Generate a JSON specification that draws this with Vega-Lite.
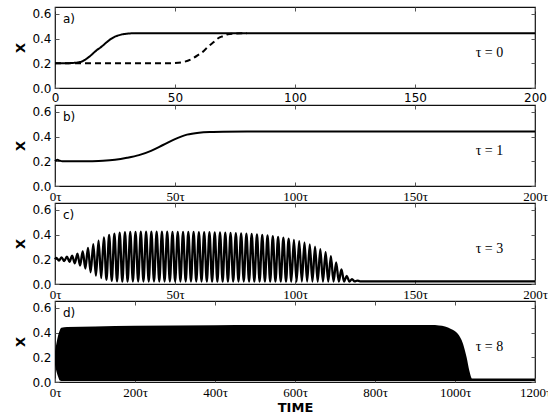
{
  "$schema": "https://vega.github.io/schema/vega-lite/v6.json",
  "padding": {"left": 14, "top": 5, "right": 0, "bottom": 4},
  "background": "white",
  "spacing": 17,
  "bounds": "flush",
  "config": {
    "view": {"stroke": "#111", "strokeWidth": 1.2},
    "axis": {"domain": false, "grid": false, "ticks": true, "tickSize": -4, "tickColor": "#555", "tickWidth": 1,
      "labelFont": "DejaVu Sans", "labelFontSize": 12, "labelColor": "#000", "labelPadding": 8, "labelFlush": false, "labelOverlap": false,
      "titleFont": "DejaVu Sans", "titleFontSize": 13, "titleFontWeight": "bold", "titleColor": "#000", "titlePadding": 4}
  },
  "vconcat": [
    {
      "width": 480, "height": 81,
      "layer": [
        {
          "data": {"values": [
            {"t": 0, "x": 0.2, "run": "solid"}, {"t": 5, "x": 0.201, "run": "solid"}, {"t": 8, "x": 0.204, "run": "solid"},
            {"t": 11, "x": 0.213, "run": "solid"}, {"t": 13, "x": 0.235, "run": "solid"}, {"t": 15, "x": 0.265, "run": "solid"},
            {"t": 17, "x": 0.3, "run": "solid"}, {"t": 19.4, "x": 0.335, "run": "solid"}, {"t": 21.5, "x": 0.37, "run": "solid"},
            {"t": 23.5, "x": 0.4, "run": "solid"}, {"t": 25.5, "x": 0.42, "run": "solid"}, {"t": 27.7, "x": 0.433, "run": "solid"},
            {"t": 30, "x": 0.44, "run": "solid"}, {"t": 33, "x": 0.443, "run": "solid"}, {"t": 40, "x": 0.443, "run": "solid"},
            {"t": 200, "x": 0.443, "run": "solid"},
            {"t": 0, "x": 0.2, "run": "dashed"}, {"t": 45, "x": 0.2, "run": "dashed"}, {"t": 50, "x": 0.203, "run": "dashed"},
            {"t": 54, "x": 0.213, "run": "dashed"}, {"t": 57, "x": 0.235, "run": "dashed"}, {"t": 59.7, "x": 0.268, "run": "dashed"},
            {"t": 62, "x": 0.3, "run": "dashed"}, {"t": 63.8, "x": 0.335, "run": "dashed"}, {"t": 66, "x": 0.37, "run": "dashed"},
            {"t": 68, "x": 0.403, "run": "dashed"}, {"t": 70, "x": 0.42, "run": "dashed"}, {"t": 72, "x": 0.435, "run": "dashed"},
            {"t": 75, "x": 0.441, "run": "dashed"}, {"t": 78, "x": 0.443, "run": "dashed"}, {"t": 80, "x": 0.443, "run": "dashed"}
          ]},
          "mark": {"type": "line", "color": "#000", "strokeWidth": 2, "interpolate": "monotone"},
          "encoding": {
            "x": {"field": "t", "type": "quantitative", "scale": {"domain": [0, 200], "nice": false},
              "axis": {"values": [0, 50, 100, 150, 200], "title": null}},
            "y": {"field": "x", "type": "quantitative", "scale": {"domain": [0, 0.656], "nice": false},
              "axis": {"values": [0, 0.2, 0.4, 0.6], "format": ".1f", "title": "X"}},
            "strokeDash": {"field": "run", "type": "nominal", "scale": {"domain": ["solid", "dashed"], "range": [[1, 0], [6, 4]]}, "legend": null}
          }
        },
        {
          "data": {"values": [{}]},
          "mark": {"type": "text", "align": "left", "baseline": "middle", "font": "DejaVu Sans", "fontSize": 12, "color": "#000"},
          "encoding": {
            "x": {"datum": 3.3, "type": "quantitative", "axis": {"orient": "top", "labels": false, "title": null, "values": [0, 50, 100, 150, 200]}},
            "y": {"datum": 0.559, "type": "quantitative", "axis": {"orient": "right", "labels": false, "title": null, "values": [0, 0.2, 0.4, 0.6]}},
            "text": {"value": "a)"}
          }
        },
        {
          "data": {"values": [{}]},
          "mark": {"type": "text", "align": "center", "baseline": "middle", "font": "Liberation Serif", "fontSize": 14, "color": "#000"},
          "encoding": {
            "x": {"datum": 181, "type": "quantitative", "axis": null},
            "y": {"datum": 0.285, "type": "quantitative", "axis": null},
            "text": {"value": "τ = 0"}
          }
        }
      ],
      "resolve": {"axis": {"x": "independent", "y": "independent"}}
    },
    {
      "width": 480, "height": 81,
      "layer": [
        {
          "data": {"values": [
            {"t": 0, "x": 0.2}, {"t": 1, "x": 0.212}, {"t": 2, "x": 0.205}, {"t": 3, "x": 0.2}, {"t": 5, "x": 0.2},
            {"t": 10, "x": 0.2}, {"t": 15, "x": 0.201}, {"t": 20, "x": 0.204}, {"t": 25, "x": 0.212}, {"t": 30, "x": 0.228},
            {"t": 35, "x": 0.25}, {"t": 40, "x": 0.285}, {"t": 45, "x": 0.332}, {"t": 50, "x": 0.38}, {"t": 55, "x": 0.416},
            {"t": 60, "x": 0.432}, {"t": 65, "x": 0.438}, {"t": 70, "x": 0.44}, {"t": 80, "x": 0.441}, {"t": 100, "x": 0.441},
            {"t": 200, "x": 0.441}
          ]},
          "mark": {"type": "line", "color": "#000", "strokeWidth": 2, "interpolate": "monotone"},
          "encoding": {
            "x": {"field": "t", "type": "quantitative", "scale": {"domain": [0, 200], "nice": false},
              "axis": {"values": [0, 50, 100, 150, 200], "title": null, "labelFont": "Liberation Serif", "labelFontSize": 13, "labelExpr": "datum.value + 'τ'"}},
            "y": {"field": "x", "type": "quantitative", "scale": {"domain": [0, 0.656], "nice": false},
              "axis": {"values": [0, 0.2, 0.4, 0.6], "format": ".1f", "title": "X"}}
          }
        },
        {
          "data": {"values": [{}]},
          "mark": {"type": "text", "align": "left", "baseline": "middle", "font": "DejaVu Sans", "fontSize": 12, "color": "#000"},
          "encoding": {
            "x": {"datum": 3.3, "type": "quantitative", "axis": {"orient": "top", "labels": false, "title": null, "values": [0, 50, 100, 150, 200]}},
            "y": {"datum": 0.559, "type": "quantitative", "axis": {"orient": "right", "labels": false, "title": null, "values": [0, 0.2, 0.4, 0.6]}},
            "text": {"value": "b)"}
          }
        },
        {
          "data": {"values": [{}]},
          "mark": {"type": "text", "align": "center", "baseline": "middle", "font": "Liberation Serif", "fontSize": 14, "color": "#000"},
          "encoding": {
            "x": {"datum": 181, "type": "quantitative", "axis": null},
            "y": {"datum": 0.285, "type": "quantitative", "axis": null},
            "text": {"value": "τ = 1"}
          }
        }
      ],
      "resolve": {"axis": {"x": "independent", "y": "independent"}}
    },
    {
      "width": 480, "height": 81,
      "layer": [
        {
          "data": {"values": [
            {"t": 0, "x": 0.2}, {"t": 0.55, "x": 0.212}, {"t": 1.65, "x": 0.19}, {"t": 2.75, "x": 0.216}, {"t": 3.85, "x": 0.186},
            {"t": 4.95, "x": 0.222}, {"t": 6.05, "x": 0.18}, {"t": 7.15, "x": 0.23}, {"t": 8.25, "x": 0.168}, {"t": 9.35, "x": 0.245},
            {"t": 10.45, "x": 0.15}, {"t": 11.55, "x": 0.265}, {"t": 12.65, "x": 0.125}, {"t": 13.75, "x": 0.293}, {"t": 14.85, "x": 0.095},
            {"t": 15.95, "x": 0.322}, {"t": 17.05, "x": 0.068}, {"t": 18.15, "x": 0.352}, {"t": 19.25, "x": 0.048}, {"t": 20.35, "x": 0.378},
            {"t": 21.45, "x": 0.034}, {"t": 22.55, "x": 0.397}, {"t": 23.65, "x": 0.026}, {"t": 24.75, "x": 0.408}, {"t": 25.85, "x": 0.022},
            {"t": 26.95, "x": 0.415}, {"t": 28.05, "x": 0.02}, {"t": 29.15, "x": 0.419}, {"t": 30.25, "x": 0.02}, {"t": 31.35, "x": 0.421},
            {"t": 32.45, "x": 0.02}, {"t": 33.55, "x": 0.422}, {"t": 34.65, "x": 0.02}, {"t": 35.75, "x": 0.423}, {"t": 36.85, "x": 0.02},
            {"t": 37.95, "x": 0.423}, {"t": 39.05, "x": 0.02}, {"t": 40.15, "x": 0.423}, {"t": 41.25, "x": 0.02}, {"t": 42.35, "x": 0.423},
            {"t": 43.45, "x": 0.02}, {"t": 44.55, "x": 0.423}, {"t": 45.65, "x": 0.02}, {"t": 46.75, "x": 0.423}, {"t": 47.85, "x": 0.02},
            {"t": 48.95, "x": 0.422}, {"t": 50.05, "x": 0.02}, {"t": 51.15, "x": 0.422}, {"t": 52.25, "x": 0.02}, {"t": 53.35, "x": 0.422},
            {"t": 54.45, "x": 0.02}, {"t": 55.55, "x": 0.421}, {"t": 56.65, "x": 0.02}, {"t": 57.75, "x": 0.421}, {"t": 58.85, "x": 0.02},
            {"t": 59.95, "x": 0.42}, {"t": 61.05, "x": 0.02}, {"t": 62.15, "x": 0.42}, {"t": 63.25, "x": 0.02}, {"t": 64.35, "x": 0.419},
            {"t": 65.45, "x": 0.02}, {"t": 66.55, "x": 0.418}, {"t": 67.65, "x": 0.02}, {"t": 68.75, "x": 0.417}, {"t": 69.85, "x": 0.02},
            {"t": 70.95, "x": 0.416}, {"t": 72.05, "x": 0.02}, {"t": 73.15, "x": 0.414}, {"t": 74.25, "x": 0.02}, {"t": 75.35, "x": 0.412},
            {"t": 76.45, "x": 0.02}, {"t": 77.55, "x": 0.41}, {"t": 78.65, "x": 0.02}, {"t": 79.75, "x": 0.408}, {"t": 80.85, "x": 0.02},
            {"t": 81.95, "x": 0.405}, {"t": 83.05, "x": 0.02}, {"t": 84.15, "x": 0.402}, {"t": 85.25, "x": 0.02}, {"t": 86.35, "x": 0.398},
            {"t": 87.45, "x": 0.02}, {"t": 88.55, "x": 0.393}, {"t": 89.65, "x": 0.02}, {"t": 90.75, "x": 0.388}, {"t": 91.85, "x": 0.02},
            {"t": 92.95, "x": 0.382}, {"t": 94.05, "x": 0.02}, {"t": 95.15, "x": 0.375}, {"t": 96.25, "x": 0.02}, {"t": 97.35, "x": 0.367},
            {"t": 98.45, "x": 0.02}, {"t": 99.55, "x": 0.358}, {"t": 100.65, "x": 0.02}, {"t": 101.75, "x": 0.348}, {"t": 102.85, "x": 0.02},
            {"t": 103.95, "x": 0.336}, {"t": 105.05, "x": 0.02}, {"t": 106.15, "x": 0.32}, {"t": 107.25, "x": 0.02}, {"t": 108.35, "x": 0.302},
            {"t": 109.45, "x": 0.02}, {"t": 110.55, "x": 0.282}, {"t": 111.65, "x": 0.02}, {"t": 112.75, "x": 0.258}, {"t": 113.85, "x": 0.02},
            {"t": 114.95, "x": 0.225}, {"t": 116.05, "x": 0.02}, {"t": 117.15, "x": 0.175}, {"t": 118.25, "x": 0.02}, {"t": 119.35, "x": 0.118},
            {"t": 120.45, "x": 0.02}, {"t": 121.55, "x": 0.066}, {"t": 122.65, "x": 0.02}, {"t": 123.75, "x": 0.04}, {"t": 124.85, "x": 0.021},
            {"t": 125.95, "x": 0.028}, {"t": 127.05, "x": 0.022}, {"t": 130, "x": 0.022}, {"t": 200, "x": 0.022}
          ]},
          "mark": {"type": "line", "color": "#000", "strokeWidth": 2.3, "interpolate": "monotone"},
          "encoding": {
            "x": {"field": "t", "type": "quantitative", "scale": {"domain": [0, 200], "nice": false},
              "axis": {"values": [0, 50, 100, 150, 200], "title": null, "labelFont": "Liberation Serif", "labelFontSize": 13, "labelExpr": "datum.value + 'τ'"}},
            "y": {"field": "x", "type": "quantitative", "scale": {"domain": [0, 0.656], "nice": false},
              "axis": {"values": [0, 0.2, 0.4, 0.6], "format": ".1f", "title": "X"}}
          }
        },
        {
          "data": {"values": [{}]},
          "mark": {"type": "text", "align": "left", "baseline": "middle", "font": "DejaVu Sans", "fontSize": 12, "color": "#000"},
          "encoding": {
            "x": {"datum": 3.3, "type": "quantitative", "axis": {"orient": "top", "labels": false, "title": null, "values": [0, 50, 100, 150, 200]}},
            "y": {"datum": 0.559, "type": "quantitative", "axis": {"orient": "right", "labels": false, "title": null, "values": [0, 0.2, 0.4, 0.6]}},
            "text": {"value": "c)"}
          }
        },
        {
          "data": {"values": [{}]},
          "mark": {"type": "text", "align": "center", "baseline": "middle", "font": "Liberation Serif", "fontSize": 14, "color": "#000"},
          "encoding": {
            "x": {"datum": 181, "type": "quantitative", "axis": null},
            "y": {"datum": 0.285, "type": "quantitative", "axis": null},
            "text": {"value": "τ = 3"}
          }
        }
      ],
      "resolve": {"axis": {"x": "independent", "y": "independent"}}
    },
    {
      "width": 480, "height": 81,
      "layer": [
        {
          "data": {"values": [
            {"t": 0, "lo": 0.14, "hi": 0.25}, {"t": 4, "lo": 0.08, "hi": 0.32}, {"t": 8, "lo": 0.04, "hi": 0.38},
            {"t": 12, "lo": 0.012, "hi": 0.42}, {"t": 16, "lo": 0.008, "hi": 0.44}, {"t": 30, "lo": 0.008, "hi": 0.445},
            {"t": 100, "lo": 0.008, "hi": 0.45}, {"t": 200, "lo": 0.008, "hi": 0.456}, {"t": 400, "lo": 0.008, "hi": 0.46},
            {"t": 600, "lo": 0.008, "hi": 0.462}, {"t": 800, "lo": 0.008, "hi": 0.462}, {"t": 940, "lo": 0.008, "hi": 0.461},
            {"t": 960, "lo": 0.008, "hi": 0.458}, {"t": 975, "lo": 0.008, "hi": 0.45}, {"t": 990, "lo": 0.008, "hi": 0.43},
            {"t": 1007, "lo": 0.008, "hi": 0.39}, {"t": 1020, "lo": 0.008, "hi": 0.31}, {"t": 1029, "lo": 0.008, "hi": 0.2},
            {"t": 1036, "lo": 0.008, "hi": 0.09}, {"t": 1043, "lo": 0.008, "hi": 0.028}, {"t": 1200, "lo": 0.008, "hi": 0.028}
          ]},
          "mark": {"type": "area", "color": "#000", "interpolate": "monotone"},
          "encoding": {
            "x": {"field": "t", "type": "quantitative", "scale": {"domain": [0, 1200], "nice": false},
              "axis": {"values": [0, 200, 400, 600, 800, 1000, 1200], "title": "TIME", "titlePadding": 2, "labelFont": "Liberation Serif", "labelFontSize": 13, "labelExpr": "datum.value + 'τ'"}},
            "y": {"field": "lo", "type": "quantitative", "scale": {"domain": [0, 0.656], "nice": false},
              "axis": {"values": [0, 0.2, 0.4, 0.6], "format": ".1f", "title": "X"}},
            "y2": {"field": "hi"}
          }
        },
        {
          "data": {"values": [{}]},
          "mark": {"type": "text", "align": "left", "baseline": "middle", "font": "DejaVu Sans", "fontSize": 12, "color": "#000"},
          "encoding": {
            "x": {"datum": 20, "type": "quantitative", "axis": {"orient": "top", "labels": false, "title": null, "values": [0, 200, 400, 600, 800, 1000, 1200]}},
            "y": {"datum": 0.559, "type": "quantitative", "axis": {"orient": "right", "labels": false, "title": null, "values": [0, 0.2, 0.4, 0.6]}},
            "text": {"value": "d)"}
          }
        },
        {
          "data": {"values": [{}]},
          "mark": {"type": "text", "align": "center", "baseline": "middle", "font": "Liberation Serif", "fontSize": 14, "color": "#000"},
          "encoding": {
            "x": {"datum": 1086, "type": "quantitative", "axis": null},
            "y": {"datum": 0.285, "type": "quantitative", "axis": null},
            "text": {"value": "τ = 8"}
          }
        }
      ],
      "resolve": {"axis": {"x": "independent", "y": "independent"}}
    }
  ]
}
